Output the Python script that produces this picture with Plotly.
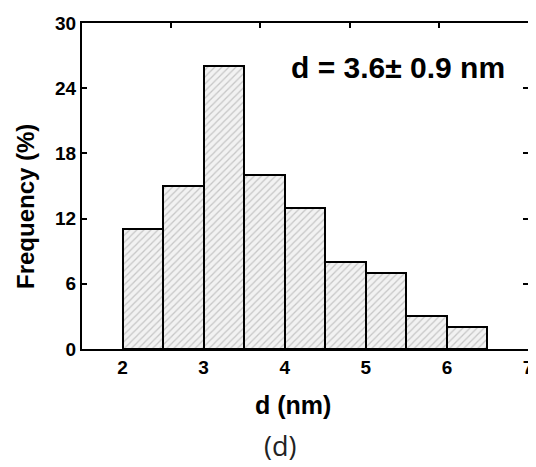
import plotly.graph_objects as go

bin_left = [2.0, 2.5, 3.0, 3.5, 4.0, 4.5, 5.0, 5.5, 6.0]
frequency = [11, 15, 26, 16, 13, 8, 7, 3, 2]
bin_width = 0.5
x_ticks = [2, 3, 4, 5, 6, 7]
y_ticks = [0, 6, 12, 18, 24, 30]
top_ticks = [1, 2, 3, 4]

centers = [b + bin_width / 2 for b in bin_left]

# page body has an 8px default margin; size the figure so it fits the 536x467 window
OFF = 8
W, H = 536 - OFF, 467 - OFF
L, R, T, B = 82 - OFF, 8, 23 - OFF, 118
pw, ph = W - L - R, H - T - B


def px(x):
    return (x - OFF - L) / pw


def py(y):
    return (H - B - (y - OFF)) / ph


fig = go.Figure()
fig.add_trace(go.Bar(
    x=centers, y=frequency, width=[bin_width] * len(centers),
    marker=dict(
        color="#f2f2f2",
        line=dict(color="black", width=2),
        pattern=dict(shape="/", fgcolor="#999999", bgcolor="#f2f2f2", size=5, solidity=0.25),
    ),
    showlegend=False,
))
fig.add_trace(go.Scatter(x=[0], y=[0], xaxis="x2", mode="markers",
                         marker=dict(opacity=0), showlegend=False, hoverinfo="skip"))

font_main = "Liberation Sans, Arial, sans-serif"
fig.update_layout(
    width=W, height=H,
    margin=dict(l=L, r=R, t=T, b=B, autoexpand=False),
    plot_bgcolor="white", paper_bgcolor="white",
    font=dict(family=font_main, color="black"),
    bargap=0,
    xaxis=dict(
        range=[1.5, 7], tickvals=x_ticks, ticks="", showgrid=False, zeroline=False,
        showline=True, linecolor="black", linewidth=2, mirror=True,
        tickfont=dict(size=19, family=font_main, weight="bold"),
        ticklabeloverflow="allow", automargin=False,
    ),
    xaxis2=dict(
        range=[0, 5], overlaying="x", side="top", tickvals=top_ticks,
        ticks="inside", ticklen=5, tickwidth=2, tickcolor="black",
        showticklabels=False, showgrid=False, zeroline=False, showline=False,
    ),
    yaxis=dict(
        range=[0, 30], tickvals=y_ticks, ticks="inside", ticklen=5, tickwidth=2,
        tickcolor="black", showgrid=False, zeroline=False,
        showline=True, linecolor="black", linewidth=2, mirror="ticks",
        tickfont=dict(size=19, family=font_main, weight="bold"),
        automargin=False,
    ),
    annotations=[
        dict(text="<b>d (nm)</b>", xref="paper", yref="paper",
             x=px(293), y=py(405), xanchor="center", yanchor="middle", showarrow=False,
             font=dict(size=25, family=font_main, color="black")),
        dict(text="<b>Frequency (%)</b>", xref="paper", yref="paper",
             x=px(25), y=py(207), xanchor="center", yanchor="middle", showarrow=False,
             textangle=-90, font=dict(size=24, family=font_main, color="black")),
        dict(text="<b>d = 3.6± 0.9 nm</b>", xref="paper", yref="paper",
             x=px(398), y=py(68), xanchor="center", yanchor="middle", showarrow=False,
             font=dict(size=30, family=font_main, color="black")),
        dict(text="(d)", xref="paper", yref="paper",
             x=px(280), y=py(445), xanchor="center", yanchor="middle",
             showarrow=False, font=dict(size=27, family="Open Sans, sans-serif", color="#222222")),
    ],
)

fig.write_html("out.html")
